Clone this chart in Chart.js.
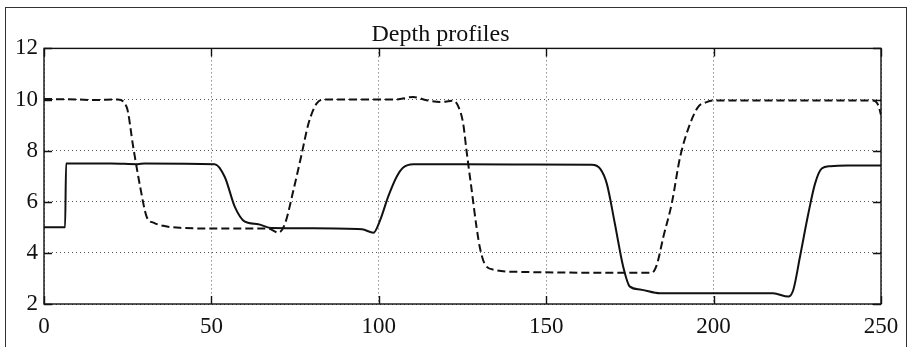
<!DOCTYPE html>
<html>
<head>
<meta charset="utf-8">
<script src="https://cdn.jsdelivr.net/npm/chart.js@4.4.1/dist/chart.umd.min.js"></script>
<style>
  html, body { margin: 0; padding: 0; background: #fff; }
  #wrap { position: relative; width: 911px; height: 347px; overflow: hidden; }
  #frame { position: absolute; left: 5px; top: 7px; width: 902px; height: 400px; border: 1px solid #333; box-sizing: border-box; pointer-events: none; }
  canvas { position: absolute; left: 0; top: 0; }
</style>
</head>
<body>
<div id="wrap">
  <div id="frame"></div>
  <canvas id="c" width="911" height="347"></canvas>
</div>
<script>
// ---- data ----
const chartTitle = "Depth profiles";
const xTicks = [0, 50, 100, 150, 200, 250];
const yTicks = [2, 4, 6, 8, 10, 12];

// solid profile
const solidX = [0, 6.3, 6.6, 20, 28, 30, 51, 54, 57, 60, 64, 68, 80, 95, 98.4, 100.4, 102.8, 105.3, 107.3, 110.3, 140, 163.6, 166.1, 168.1, 170.5, 173, 175, 178, 184, 217.8, 222.3, 223.8, 225.8, 228.3, 230.3, 232.3, 234.8, 240, 250];
const solidY = [5, 5, 7.5, 7.5, 7.47, 7.5, 7.47, 6.97, 5.8, 5.22, 5.12, 4.97, 4.96, 4.92, 4.79, 5.28, 6.2, 6.97, 7.34, 7.47, 7.46, 7.45, 7.3, 6.71, 5.15, 3.46, 2.68, 2.57, 2.42, 2.42, 2.29, 2.55, 3.85, 5.54, 6.71, 7.3, 7.39, 7.42, 7.42];

// dashed profile
const dashedX = [0, 10, 15, 22, 24.7, 26.7, 28.7, 30.7, 32.7, 36, 40.6, 55, 67, 70, 72, 74.5, 77, 79, 81.4, 83.9, 105, 110.3, 114.3, 118.3, 122.3, 123.8, 125.2, 126.2, 127.7, 129.2, 130.2, 131.7, 134.7, 140.7, 181.5, 183, 185, 187.5, 190, 193, 195.4, 197.9, 200, 247.6, 249.2, 250];
const dashedY = [10.02, 10.0, 9.98, 10.0, 9.7, 8.1, 6.6, 5.4, 5.18, 5.05, 4.98, 4.95, 4.95, 4.79, 5.15, 6.45, 7.89, 9.06, 9.84, 10.0, 10.0, 10.1, 9.97, 9.9, 9.95, 9.71, 9.06, 8.0, 6.5, 5.0, 4.2, 3.55, 3.33, 3.26, 3.22, 3.52, 4.63, 5.93, 7.75, 9.06, 9.71, 9.9, 9.96, 9.96, 9.77, 9.4];

const toPts = (xs, ys) => xs.map((x, i) => ({ x: x, y: ys[i] }));

const FONT = "'Liberation Serif', 'DejaVu Serif', serif";
const INK = '#111';

const boxPlugin = {
  id: 'boxTicks',
  afterDraw(chart) {
    const { ctx, chartArea: a, scales } = chart;
    ctx.save();
    ctx.strokeStyle = INK;
    ctx.lineWidth = 1.4;
    ctx.setLineDash([]);
    ctx.strokeRect(a.left, a.top, a.right - a.left, a.bottom - a.top);
    const L = 8;
    ctx.beginPath();
    xTicks.forEach(v => {
      const px = Math.round(scales.x.getPixelForValue(v)) + 0.5;
      ctx.moveTo(px, a.bottom); ctx.lineTo(px, a.bottom - L);
      ctx.moveTo(px, a.top); ctx.lineTo(px, a.top + L);
    });
    yTicks.forEach(v => {
      const py = Math.round(scales.y.getPixelForValue(v)) + 0.5;
      ctx.moveTo(a.left, py); ctx.lineTo(a.left + L, py);
      ctx.moveTo(a.right, py); ctx.lineTo(a.right - L, py);
    });
    ctx.stroke();
    ctx.restore();
  }
};

new Chart(document.getElementById('c'), {
  type: 'line',
  data: {
    datasets: [
      {
        label: 'solid',
        data: toPts(solidX, solidY),
        borderColor: INK,
        borderWidth: 2,
        pointRadius: 0,
        fill: false,
        cubicInterpolationMode: 'monotone'
      },
      {
        label: 'dashed',
        data: toPts(dashedX, dashedY),
        borderColor: INK,
        borderWidth: 2,
        borderDash: [8, 4],
        pointRadius: 0,
        fill: false,
        cubicInterpolationMode: 'monotone'
      }
    ]
  },
  options: {
    responsive: false,
    animation: false,
    events: [],
    layout: { padding: { left: 0, right: 30, top: 22, bottom: 0 } },
    plugins: {
      legend: { display: false },
      tooltip: { enabled: false },
      title: {
        display: true,
        text: chartTitle,
        color: INK,
        font: { family: FONT, size: 24, weight: 'normal', lineHeight: 1.1 },
        padding: { top: 0, bottom: 0 }
      }
    },
    scales: {
      x: {
        type: 'linear',
        min: 0, max: 250,
        afterBuildTicks: s => { s.ticks = xTicks.map(v => ({ value: v })); },
        afterFit: s => { s.height = 43; },
        grid: { color: '#555', lineWidth: 1, drawTicks: false },
        border: { display: false, dash: [1, 3] },
        ticks: { color: INK, padding: 9, maxRotation: 0, font: { family: FONT, size: 23 } }
      },
      y: {
        type: 'linear',
        min: 2, max: 12,
        afterBuildTicks: s => { s.ticks = yTicks.map(v => ({ value: v })); },
        afterFit: s => { s.width = 44; },
        grid: { color: '#555', lineWidth: 1, drawTicks: false },
        border: { display: false, dash: [1, 3] },
        ticks: { color: INK, padding: 6, font: { family: FONT, size: 23 } }
      }
    }
  },
  plugins: [boxPlugin]
});
</script>
</body>
</html>
